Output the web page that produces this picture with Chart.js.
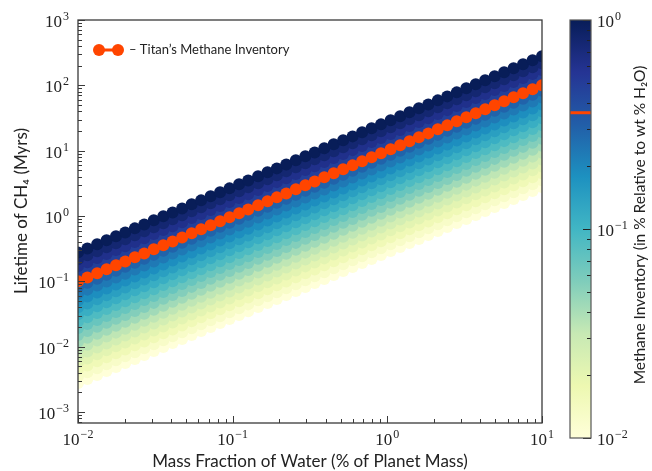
<!DOCTYPE html>
<html>
<head>
<meta charset="utf-8">
<script src="https://cdn.jsdelivr.net/npm/chart.js@4.4.1/dist/chart.umd.min.js"></script>
<style>
  body { margin: 0; background: #fff; }
  #wrap { position: relative; width: 652px; height: 471px; }
  #mainChart { position: absolute; left: 0; top: 0; }
  #barChart { position: absolute; left: 560px; top: 0; }
</style>
</head>
<body>
<div id="wrap">
  <canvas id="mainChart" width="652" height="471"></canvas>
  <canvas id="barChart" width="92" height="471"></canvas>
</div>
<script>
// --- DATA ---
// mass fraction of water (% of planet mass), one point per column of dots
const massFraction = [
  0.0100, 0.0115, 0.0133, 0.0153, 0.0176, 0.0202, 0.0233, 0.0268, 0.0309, 0.0356,
  0.0409, 0.0471, 0.0543, 0.0625, 0.0720, 0.0829, 0.0954, 0.110, 0.126, 0.146,
  0.168, 0.193, 0.222, 0.256, 0.295, 0.339, 0.391, 0.450, 0.518, 0.596,
  0.687, 0.791, 0.910, 1.05, 1.21, 1.39, 1.60, 1.84, 2.12, 2.44,
  2.81, 3.24, 3.73, 4.29, 4.94, 5.69, 6.55, 7.54, 8.69, 10.0
];
// lifetime of CH4 (Myrs) along the orange Titan line
const titanLifetime = [
  0.100, 0.115, 0.133, 0.153, 0.176, 0.202, 0.233, 0.268, 0.309, 0.356,
  0.409, 0.471, 0.543, 0.625, 0.720, 0.829, 0.954, 1.10, 1.26, 1.46,
  1.68, 1.93, 2.22, 2.56, 2.95, 3.39, 3.91, 4.50, 5.18, 5.96,
  6.87, 7.91, 9.10, 10.5, 12.1, 13.9, 16.0, 18.4, 21.2, 24.4,
  28.1, 32.4, 37.3, 42.9, 49.4, 56.9, 65.5, 75.4, 86.9, 100
];
// methane inventory of each coloured band (% relative to wt % H2O)
const inventoryLevels = [
  0.0100, 0.0127, 0.0162, 0.0207, 0.0264, 0.0336, 0.0428, 0.0546, 0.0695, 0.0886,
  0.113, 0.144, 0.183, 0.234, 0.298, 0.379, 0.483, 0.616, 0.785, 1.00
];
const titanInventory = 0.36;

const xTickValues = [0.01, 0.1, 1, 10];
const yTickValues = [0.001, 0.01, 0.1, 1, 10, 100, 1000];
const colorbarTickValues = [0.01, 0.1, 1];

// --- STYLE ---
const TITAN_RED = '#ff4500';
const YLGNBU = ['#ffffd9', '#edf8b1', '#c7e9b4', '#7fcdbb', '#41b6c4', '#1d91c0', '#225ea8', '#253494', '#081d58'];
const SERIF = '"Liberation Serif", "DejaVu Serif", serif';
const SANS = 'Lato, "Open Sans", sans-serif';
const AXIS_COLOR = '#3a3a3a';

// --- HELPERS ---
const hexToRgb = (hex) => [1, 3, 5].map(i => parseInt(hex.substr(i, 2), 16));

// YlGnBu with a log norm from 1e-2 to 1e0
const colorFor = (level) => {
  let t = (Math.log10(level) + 2) / 2;
  t = Math.min(1, Math.max(0, t)) * (YLGNBU.length - 1);
  const i = Math.min(YLGNBU.length - 2, Math.floor(t));
  const f = t - i;
  const a = hexToRgb(YLGNBU[i]), b = hexToRgb(YLGNBU[i + 1]);
  const c = a.map((v, k) => Math.round(v + (b[k] - v) * f));
  return `rgb(${c[0]}, ${c[1]}, ${c[2]})`;
};

// decades + minor ticks between min and max
const logTicks = (min, max) => {
  const out = [];
  for (let e = Math.floor(Math.log10(min)); e <= Math.ceil(Math.log10(max)); e++) {
    for (let k = 1; k <= 9; k++) {
      const v = k * Math.pow(10, e);
      if (v >= min * 0.999 && v <= max * 1.001) out.push({ v, major: k === 1 });
    }
  }
  return out;
};

// "10^n" label drawn with a raised exponent
const drawPow = (ctx, value, x, y, align) => {
  const exp = Math.round(Math.log10(value));
  const base = '10';
  const sup = exp < 0 ? '\u2212' + (-exp) : String(exp);
  ctx.font = `17px ${SERIF}`;
  const wb = ctx.measureText(base).width;
  ctx.font = `12px ${SERIF}`;
  const ws = ctx.measureText(sup).width;
  const total = wb + 1 + ws;
  const left = align === 'right' ? x - total : align === 'center' ? x - total / 2 : x;
  ctx.fillStyle = '#222';
  ctx.textAlign = 'left';
  ctx.textBaseline = 'alphabetic';
  ctx.font = `17px ${SERIF}`;
  ctx.fillText(base, left, y);
  ctx.font = `12px ${SERIF}`;
  ctx.fillText(sup, left + wb + 1, y - 7);
};

// --- MAIN CHART ---
const datasets = [{
  label: 'Titan\u2019s Methane Inventory',
  data: massFraction.map((x, i) => ({ x, y: titanLifetime[i] })),
  showLine: true,
  borderColor: TITAN_RED,
  backgroundColor: TITAN_RED,
  borderWidth: 3,
  pointRadius: 6,
  pointBorderWidth: 0,
  clip: 0
}];

// first dataset is drawn on top: richest inventories go first
inventoryLevels.slice().reverse().forEach(level => {
  datasets.push({
    label: 'inventory ' + level,
    data: massFraction.map((x, i) => ({ x, y: titanLifetime[i] * level / titanInventory })),
    backgroundColor: colorFor(level),
    borderWidth: 0,
    pointRadius: 6,
    pointBorderWidth: 0,
    clip: 0
  });
});

const axesDecor = {
  id: 'axesDecor',
  afterDraw(chart) {
    const { ctx, chartArea: a, scales: { x, y } } = chart;
    ctx.save();

    // frame
    ctx.strokeStyle = AXIS_COLOR;
    ctx.lineWidth = 1.3;
    ctx.strokeRect(a.left, a.top, a.right - a.left, a.bottom - a.top);

    // inward ticks
    ctx.lineWidth = 1;
    ctx.beginPath();
    logTicks(x.min, x.max).forEach(t => {
      const px = Math.round(x.getPixelForValue(t.v)) + 0.5;
      ctx.moveTo(px, a.bottom);
      ctx.lineTo(px, a.bottom - (t.major ? 7 : 4));
    });
    logTicks(y.min, y.max).forEach(t => {
      const py = Math.round(y.getPixelForValue(t.v)) + 0.5;
      ctx.moveTo(a.left, py);
      ctx.lineTo(a.left + (t.major ? 7 : 4), py);
    });
    ctx.stroke();

    // tick labels
    xTickValues.forEach(v => drawPow(ctx, v, x.getPixelForValue(v), a.bottom + 22, 'center'));
    yTickValues.forEach(v => drawPow(ctx, v, a.left - 9, y.getPixelForValue(v) + 7, 'right'));

    // axis titles
    ctx.fillStyle = '#222';
    ctx.font = `17px ${SANS}`;
    ctx.textAlign = 'center';
    ctx.textBaseline = 'middle';
    ctx.fillText('Mass Fraction of Water (% of Planet Mass)', (a.left + a.right) / 2, 462);
    ctx.save();
    ctx.translate(22, 211);
    ctx.rotate(-Math.PI / 2);
    ctx.fillText('Lifetime of CH\u2084 (Myrs)', 0, 0);
    ctx.restore();

    // legend (top left, inside the axes)
    const titan = chart.data.datasets[0];
    ctx.strokeStyle = TITAN_RED;
    ctx.fillStyle = TITAN_RED;
    ctx.lineWidth = 3;
    ctx.beginPath();
    ctx.moveTo(99, 50);
    ctx.lineTo(118, 50);
    ctx.stroke();
    [99, 118].forEach(cx => {
      ctx.beginPath();
      ctx.arc(cx, 50, 6, 0, Math.PI * 2);
      ctx.fill();
    });
    ctx.fillStyle = '#222';
    ctx.font = `13px ${SANS}`;
    ctx.textAlign = 'left';
    ctx.fillText('\u2013 ' + titan.label, 129, 50);

    ctx.restore();
  }
};

new Chart(document.getElementById('mainChart'), {
  type: 'scatter',
  data: { datasets },
  options: {
    responsive: false,
    animation: false,
    events: [],
    layout: { padding: { left: 78, top: 20, right: 110, bottom: 48 } },
    plugins: { legend: { display: false }, tooltip: { enabled: false } },
    scales: {
      x: { type: 'logarithmic', min: 0.01, max: 10, display: false },
      y: { type: 'logarithmic', min: 6.8e-4, max: 1000, display: false }
    }
  },
  plugins: [axesDecor]
});

// --- COLORBAR ---
const colorbarDecor = {
  id: 'colorbarDecor',
  afterDraw(chart) {
    const { ctx, chartArea: a, scales: { y } } = chart;
    ctx.save();

    // Titan marker
    const ty = y.getPixelForValue(titanInventory);
    ctx.strokeStyle = TITAN_RED;
    ctx.lineWidth = 3;
    ctx.beginPath();
    ctx.moveTo(a.left, ty);
    ctx.lineTo(a.right, ty);
    ctx.stroke();

    // ticks on the right edge, pointing inward
    ctx.strokeStyle = '#222';
    ctx.lineWidth = 1;
    ctx.beginPath();
    logTicks(y.min, y.max).forEach(t => {
      const py = Math.round(y.getPixelForValue(t.v)) + 0.5;
      ctx.moveTo(a.right, py);
      ctx.lineTo(a.right - (t.major ? 8 : 4), py);
    });
    ctx.stroke();

    // frame
    ctx.strokeStyle = '#555';
    ctx.lineWidth = 1.2;
    ctx.strokeRect(a.left, a.top, a.right - a.left, a.bottom - a.top);

    colorbarTickValues.forEach(v => drawPow(ctx, v, a.right + 6, y.getPixelForValue(v) + 7, 'left'));

    // colorbar title
    ctx.fillStyle = '#222';
    ctx.font = `15.5px ${SANS}`;
    ctx.textAlign = 'center';
    ctx.textBaseline = 'middle';
    ctx.translate(80, 225);
    ctx.rotate(-Math.PI / 2);
    ctx.fillText('Methane Inventory (in % Relative to wt % H\u2082O)', 0, 0);
    ctx.restore();
  }
};

new Chart(document.getElementById('barChart'), {
  type: 'bar',
  data: {
    labels: ['inventory'],
    datasets: [{
      data: [[0.01, 1]],
      borderWidth: 0,
      barPercentage: 1,
      categoryPercentage: 1,
      backgroundColor: (context) => {
        const area = context.chart.chartArea;
        if (!area) return YLGNBU[4];
        const g = context.chart.ctx.createLinearGradient(0, area.bottom, 0, area.top);
        YLGNBU.forEach((c, i) => g.addColorStop(i / (YLGNBU.length - 1), c));
        return g;
      }
    }]
  },
  options: {
    responsive: false,
    animation: false,
    events: [],
    layout: { padding: { left: 10, right: 61, top: 20, bottom: 33 } },
    plugins: { legend: { display: false }, tooltip: { enabled: false } },
    scales: {
      x: { display: false },
      y: { type: 'logarithmic', min: 0.01, max: 1, display: false }
    }
  },
  plugins: [colorbarDecor]
});
</script>
</body>
</html>
